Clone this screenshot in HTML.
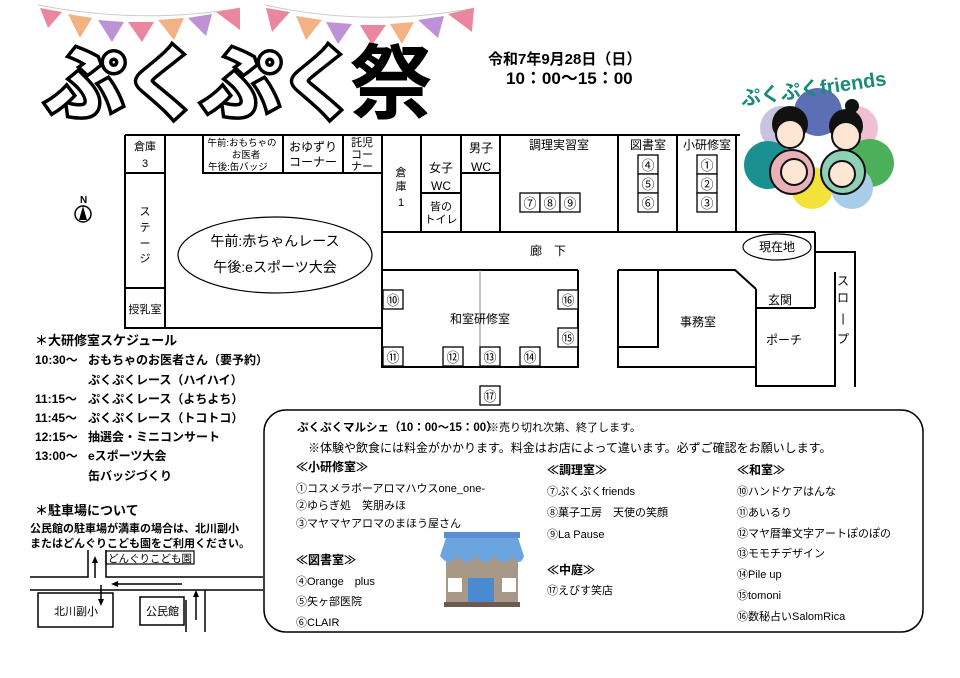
<!DOCTYPE html>
<html><head><meta charset="utf-8"><style>
html,body{margin:0;padding:0;background:#fff;}
svg{display:block;}
text{font-family:"Liberation Sans","Noto Sans CJK JP",sans-serif;fill:#000;}
.b{font-weight:bold;}
</style></head><body>
<svg width="960" height="678" viewBox="0 0 960 678" xmlns="http://www.w3.org/2000/svg">
<rect width="960" height="678" fill="#fff"/>
<path d="M38 5 Q140 25 240 8" stroke="#ccc" fill="none"/>
<path d="M265 5 Q370 28 475 8" stroke="#ccc" fill="none"/>
<g opacity="0.85">
<polygon points="40,8 62,12 48,28" fill="#e8718f"/>
<polygon points="68,14 92,18 80,38" fill="#f0a56e"/>
<polygon points="98,20 124,22 112,42" fill="#b27fd0"/>
<polygon points="128,22 154,22 142,42" fill="#e8718f"/>
<polygon points="158,20 184,18 174,40" fill="#f0a56e"/>
<polygon points="188,18 212,14 206,36" fill="#b27fd0"/>
<polygon points="216,12 240,8 240,30" fill="#e8718f"/>
<polygon points="266,8 290,12 272,32" fill="#e8718f"/>
<polygon points="296,16 322,20 306,40" fill="#f0a56e"/>
<polygon points="326,22 352,24 338,44" fill="#b27fd0"/>
<polygon points="360,25 386,25 372,45" fill="#e8718f"/>
<polygon points="390,24 414,22 402,44" fill="#f0a56e"/>
<polygon points="418,20 444,16 438,38" fill="#b27fd0"/>
<polygon points="448,14 474,8 472,32" fill="#e8718f"/>
</g>
<text x="45" y="112" font-size="80" class="b" fill="#fff" stroke="#000" stroke-width="7" paint-order="stroke" style="fill:#fff;letter-spacing:-2px">ぷくぷく</text>
<text x="350" y="112" font-size="82" class="b">祭</text>
<text x="488" y="64" font-size="15" class="b">令和7年9月28日（日）</text>
<text x="506" y="84" font-size="17" class="b">10：00〜15：00</text>
<g>
<circle cx="818" cy="112" r="24" fill="#5c6fb5"/>
<circle cx="782" cy="128" r="22" fill="#c9c3e0"/>
<circle cx="856" cy="128" r="22" fill="#f0bfd3"/>
<circle cx="768" cy="165" r="24" fill="#1a9090"/>
<circle cx="870" cy="163" r="24" fill="#4caf5a"/>
<circle cx="812" cy="188" r="21" fill="#f2e23a"/>
<circle cx="852" cy="188" r="21" fill="#a9cde8"/>
<circle cx="790" cy="124" r="18" fill="#111"/><circle cx="790" cy="134" r="14" fill="#fde6d4" stroke="#111" stroke-width="2"/>
<circle cx="846" cy="126" r="17" fill="#111"/><circle cx="846" cy="136" r="14" fill="#fde6d4" stroke="#111" stroke-width="2"/>
<circle cx="852" cy="106" r="7" fill="#111"/>
<circle cx="792" cy="172" r="22" fill="#e9b2b8" stroke="#111" stroke-width="2"/>
<circle cx="843" cy="172" r="22" fill="#8fcfb6" stroke="#111" stroke-width="2"/>
<circle cx="794" cy="172" r="13" fill="#fde6d4" stroke="#111" stroke-width="2"/>
<circle cx="842" cy="174" r="13" fill="#fde6d4" stroke="#111" stroke-width="2"/>
<text x="740" y="100" font-size="20" class="b" fill="#1a8a7a" style="fill:#1a8a7a" transform="rotate(-8 780 90)">ぷくぷくfriends</text>
</g>
<g stroke="#000" stroke-width="2" fill="none">
<path d="M125 135 H740 M125 135 V328 H382 M165 135 V328 M125 173 H165 M125 288 H165"/>
<path d="M203 135 V173 H381 M283 135 V173 M343 135 V173"/>
<path d="M382 135 V367 H578 V270 M382 232 H815 M382 270 H578 M618 270 H735 L756 289 M421 135 V232 M461 135 V232 M421 193 H461 M461 173 H500 M500 173 V232 M500 135 V173"/>
<path d="M618 135 V232 M677 135 V232 M736 135 V232"/>
<path d="M618 270 V367 H756 M618 347 H658 V270"/>
<path d="M815 232 V308 M756 289 V386 H835 M756 308 H815 M815 252 H855 V387"/>
<path d="M835 272 V387"/>
</g>
<line x1="480" y1="270" x2="480" y2="367" stroke="#888" stroke-width="1"/>
<ellipse cx="275" cy="255" rx="97" ry="38" fill="none" stroke="#000" stroke-width="1.2"/>
<ellipse cx="777" cy="247" rx="34" ry="13" fill="#fff" stroke="#000" stroke-width="1.2"/>
<g stroke="#000" stroke-width="1.3" fill="#fff">
<rect x="383" y="290" width="20" height="19"/><rect x="383" y="347" width="20" height="19"/>
<rect x="443" y="347" width="20" height="19"/><rect x="480" y="347" width="20" height="19"/>
<rect x="520" y="347" width="20" height="19"/><rect x="558" y="290" width="20" height="19"/>
<rect x="558" y="328" width="20" height="19"/><rect x="480" y="386" width="20" height="19"/>
<rect x="520" y="193" width="20" height="19"/><rect x="540" y="193" width="20" height="19"/><rect x="560" y="193" width="20" height="19"/>
<rect x="638" y="155" width="20" height="19"/><rect x="638" y="174" width="20" height="19"/><rect x="638" y="193" width="20" height="19"/>
<rect x="697" y="155" width="20" height="19"/><rect x="697" y="174" width="20" height="19"/><rect x="697" y="193" width="20" height="19"/>
</g>
<g font-size="13" text-anchor="middle">
<text x="393" y="305">⑩</text><text x="393" y="362">⑪</text><text x="453" y="362">⑫</text><text x="490" y="362">⑬</text>
<text x="530" y="362">⑭</text><text x="568" y="305">⑯</text><text x="568" y="343">⑮</text><text x="490" y="401">⑰</text>
<text x="530" y="208">⑦</text><text x="550" y="208">⑧</text><text x="570" y="208">⑨</text>
<text x="648" y="170">④</text><text x="648" y="189">⑤</text><text x="648" y="208">⑥</text>
<text x="707" y="170">①</text><text x="707" y="189">②</text><text x="707" y="208">③</text>
</g>
<g font-size="11" text-anchor="middle">
<text x="145" y="150">倉庫</text><text x="145" y="167">3</text>
<text x="145" y="215">ス</text><text x="145" y="231">テ</text><text x="145" y="247">ー</text><text x="145" y="262">ジ</text>
<text x="145" y="313">授乳室</text>
<text x="242" y="146" font-size="9.5">午前:おもちゃの</text><text x="246" y="158" font-size="9.5">お医者</text><text x="238" y="170" font-size="9.5">午後:缶バッジ</text>
<text x="313" y="151" font-size="12">おゆずり</text><text x="313" y="166" font-size="12">コーナー</text>
<text x="362" y="146">託児</text><text x="362" y="158">コー</text><text x="362" y="170">ナー</text>
<text x="401" y="176">倉</text><text x="401" y="190">庫</text><text x="401" y="206">1</text>
<text x="441" y="172" font-size="12">女子</text><text x="441" y="190" font-size="12">WC</text>
<text x="441" y="210">皆の</text><text x="441" y="223">トイレ</text>
<text x="481" y="152" font-size="12">男子</text><text x="481" y="171" font-size="12">WC</text>
<text x="559" y="149" font-size="12">調理実習室</text><text x="648" y="149" font-size="12">図書室</text><text x="707" y="149" font-size="12">小研修室</text>
<text x="548" y="255" font-size="12">廊　下</text>
<text x="480" y="323" font-size="12">和室研修室</text>
<text x="698" y="326" font-size="12">事務室</text>
<text x="780" y="304" font-size="12">玄関</text>
<text x="784" y="344" font-size="12">ポーチ</text>
<text x="777" y="251" font-size="12">現在地</text>
<text x="843" y="285" font-size="12">ス</text><text x="843" y="302" font-size="12">ロ</text><text x="843" y="322" font-size="12">|</text><text x="843" y="343" font-size="12">プ</text>
</g>
<text x="275" y="246" font-size="14" text-anchor="middle">午前:赤ちゃんレース</text>
<text x="275" y="272" font-size="14" text-anchor="middle">午後:eスポーツ大会</text>
<circle cx="83" cy="214" r="8" fill="none" stroke="#000" stroke-width="1.5"/>
<polygon points="83,206 79,220 87,220" fill="#000"/>
<text x="80" y="203" font-size="10" class="b">N</text>
<g font-size="12" class="b">
<text x="35" y="345" font-size="13">＊大研修室スケジュール</text>
<text x="35" y="364">10:30～</text><text x="88" y="364">おもちゃのお医者さん（要予約）</text>
<text x="88" y="384">ぷくぷくレース（ハイハイ）</text>
<text x="35" y="403">11:15～</text><text x="88" y="403">ぷくぷくレース（よちよち）</text>
<text x="35" y="422">11:45～</text><text x="88" y="422">ぷくぷくレース（トコトコ）</text>
<text x="35" y="441">12:15～</text><text x="88" y="441">抽選会・ミニコンサート</text>
<text x="35" y="460">13:00～</text><text x="88" y="460">eスポーツ大会</text>
<text x="88" y="480">缶バッジづくり</text>
<text x="35" y="515" font-size="13">＊駐車場について</text>
<text x="30" y="532" font-size="11">公民館の駐車場が満車の場合は、北川副小</text>
<text x="30" y="547" font-size="11">またはどんぐりこども園をご利用ください。</text>
</g>
<g stroke="#000" stroke-width="1.5" fill="none">
<path d="M30 577 H88 V550 M106 550 V577 H263 M30 590 H263 M186 600 V632 M205 590 V632"/>
<rect x="38" y="593" width="75" height="34"/>
<rect x="140" y="597" width="44" height="28"/>
<rect x="106" y="551" width="88" height="13" stroke-width="1.2"/>
<path d="M95 578 V560 M101 585 V603 M182 584 H116 M196 620 V594"/>
</g>
<g fill="#000">
<polygon points="95,556 92,563 98,563"/><polygon points="101,606 98,599 104,599"/>
<polygon points="111,584 118,581 118,587"/><polygon points="196,590 193,597 199,597"/>
</g>
<g font-size="11">
<text x="108" y="562" font-size="10.5">どんぐりこども園</text>
<text x="54" y="615">北川副小</text>
<text x="146" y="615">公民館</text>
</g>
<rect x="264" y="410" width="659" height="222" rx="22" fill="none" stroke="#000" stroke-width="1.5"/>
<g font-size="11">
<text x="297" y="431" class="b" font-size="11.5">ぷくぷくマルシェ（10：00～15：00）</text>
<text x="488" y="431">※売り切れ次第、終了します。</text>
<text x="308" y="452" font-size="12">※体験や飲食には料金がかかります。料金はお店によって違います。必ずご確認をお願いします。</text>
<text x="296" y="471" class="b" font-size="12">≪小研修室≫</text>
<text x="296" y="492">①コスメラボーアロマハウスone_one-</text>
<text x="296" y="509">②ゆらぎ処　笑朋みほ</text>
<text x="296" y="527">③マヤマヤアロマのまほう屋さん</text>
<text x="296" y="564" class="b" font-size="12">≪図書室≫</text>
<text x="296" y="585">④Orange　plus</text>
<text x="296" y="605">⑤矢ヶ部医院</text>
<text x="296" y="626">⑥CLAIR</text>
<text x="547" y="474" class="b" font-size="12">≪調理室≫</text>
<text x="547" y="495">⑦ぷくぷくfriends</text>
<text x="547" y="516">⑧菓子工房　天使の笑顔</text>
<text x="547" y="538">⑨La Pause</text>
<text x="547" y="574" class="b" font-size="12">≪中庭≫</text>
<text x="547" y="594">⑰えびす笑店</text>
<text x="737" y="474" class="b" font-size="12">≪和室≫</text>
<text x="737" y="495">⑩ハンドケアはんな</text>
<text x="737" y="516">⑪あいるり</text>
<text x="737" y="537">⑫マヤ暦筆文字アートぽのぽの</text>
<text x="737" y="557">⑬モモチデザイン</text>
<text x="737" y="578">⑭Pile up</text>
<text x="737" y="599">⑮tomoni</text>
<text x="737" y="620">⑯数秘占いSalomRica</text>
</g>
<rect x="444" y="532" width="76" height="6" fill="#5b8fd0"/>
<rect x="446" y="538" width="72" height="64" fill="#a89888"/>
<path d="M440 556 Q449 568 458 556 Q467 568 476 556 Q485 568 494 556 Q503 568 512 556 Q520 568 524 556 L518 538 L446 538 Z" fill="#6aa5e0"/>
<rect x="448" y="578" width="14" height="14" fill="#fff"/><rect x="502" y="578" width="14" height="14" fill="#fff"/>
<rect x="468" y="578" width="26" height="24" fill="#4a8ad0"/>
<rect x="444" y="602" width="76" height="5" fill="#6b5a50"/>
</svg>
</body></html>
